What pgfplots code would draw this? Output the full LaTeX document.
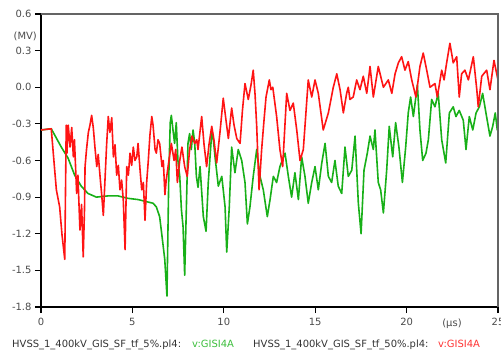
\documentclass[border=0pt]{standalone}
\usepackage{pgfplots}
\pgfplotsset{compat=1.18}
\usepackage{fontspec}
\setmainfont{DejaVu Sans}

\definecolor{trgreen}{RGB}{24,176,24}
\definecolor{trred}{RGB}{255,20,20}
\definecolor{lgreen}{RGB}{60,190,60}
\definecolor{lred}{RGB}{255,50,50}
\definecolor{txtgray}{RGB}{75,75,75}
\definecolor{framegray}{RGB}{100,100,100}

% v:GISI4A, tf = 5 %
\pgfplotstableread{
t v
0 -0.35
0.56 -0.34
1.11 -0.49
1.48 -0.58
1.84 -0.72
2.20 -0.81
2.57 -0.87
3.03 -0.90
3.67 -0.89
4.21 -0.89
4.76 -0.91
5.31 -0.92
5.85 -0.94
6.13 -0.95
6.31 -0.98
6.49 -1.06
6.62 -1.22
6.77 -1.41
6.89 -1.71
6.99 -0.73
7.07 -0.29
7.13 -0.23
7.22 -0.35
7.31 -0.46
7.40 -0.29
7.49 -0.60
7.59 -0.73
7.68 -1.00
7.77 -1.14
7.86 -1.54
7.95 -1.00
8.04 -0.46
8.13 -0.38
8.22 -0.51
8.32 -0.35
8.41 -0.46
8.50 -0.73
8.59 -0.82
8.70 -0.65
8.88 -1.06
9.03 -1.18
9.15 -0.78
9.34 -0.37
9.43 -0.43
9.52 -0.57
9.70 -0.81
9.89 -0.73
10.07 -0.98
10.16 -1.35
10.30 -0.98
10.43 -0.49
10.61 -0.70
10.79 -0.51
10.98 -0.60
11.16 -0.78
11.29 -1.12
11.43 -0.98
11.61 -0.73
11.80 -0.51
11.98 -0.73
12.16 -0.84
12.38 -1.06
12.53 -0.92
12.71 -0.73
12.89 -0.78
13.07 -0.65
13.35 -0.54
13.53 -0.73
13.71 -0.90
13.89 -0.70
14.08 -0.92
14.26 -0.57
14.44 -0.73
14.62 -0.95
14.81 -0.78
14.99 -0.65
15.17 -0.84
15.36 -0.62
15.54 -0.46
15.72 -0.73
15.90 -0.78
16.08 -0.60
16.26 -0.81
16.45 -0.87
16.63 -0.49
16.81 -0.73
17.00 -0.68
17.18 -0.40
17.36 -0.95
17.51 -1.20
17.67 -0.68
17.85 -0.54
18.00 -0.40
18.18 -0.51
18.27 -0.35
18.45 -0.78
18.58 -0.84
18.73 -1.03
18.91 -0.68
19.05 -0.32
19.24 -0.57
19.40 -0.29
19.58 -0.49
19.77 -0.78
19.95 -0.49
20.09 -0.21
20.22 -0.08
20.37 -0.24
20.59 0.02
20.73 -0.35
20.88 -0.60
21.06 -0.54
21.19 -0.43
21.37 -0.10
21.55 -0.16
21.73 -0.05
21.92 -0.43
22.14 -0.62
22.34 -0.21
22.55 -0.16
22.70 -0.24
22.88 -0.19
23.10 -0.27
23.25 -0.51
23.43 -0.24
23.62 -0.35
23.80 -0.21
23.98 -0.16
24.16 -0.05
24.34 -0.21
24.56 -0.40
24.71 -0.32
24.85 -0.21
24.96 -0.35
25.00 -0.25
}\tfFive

% v:GISI4A, tf = 50 %
\pgfplotstableread{
t v
0 -0.35
0.56 -0.34
0.84 -0.84
1.02 -0.98
1.15 -1.21
1.30 -1.41
1.38 -0.31
1.42 -0.54
1.49 -0.31
1.59 -0.49
1.68 -0.33
1.77 -0.57
1.83 -0.43
1.95 -0.87
2.02 -0.72
2.13 -1.17
2.22 -0.96
2.31 -1.39
2.38 -1.00
2.41 -0.65
2.49 -0.51
2.59 -0.37
2.68 -0.31
2.77 -0.23
2.86 -0.33
2.95 -0.49
3.05 -0.65
3.13 -0.55
3.23 -0.73
3.32 -0.88
3.41 -1.05
3.50 -0.76
3.59 -0.47
3.68 -0.24
3.77 -0.37
3.87 -0.25
3.96 -0.57
4.05 -0.47
4.14 -0.72
4.23 -0.64
4.32 -0.84
4.41 -0.76
4.50 -0.92
4.60 -1.33
4.69 -0.65
4.78 -0.72
4.87 -0.54
4.96 -0.64
5.05 -0.49
5.14 -0.60
5.24 -0.57
5.31 -0.46
5.42 -0.68
5.51 -0.84
5.60 -0.78
5.69 -1.09
5.78 -0.78
5.87 -0.60
5.96 -0.39
6.06 -0.24
6.13 -0.31
6.24 -0.51
6.31 -0.54
6.40 -0.43
6.49 -0.46
6.62 -0.65
6.69 -0.60
6.78 -0.88
6.85 -0.76
7.00 -0.60
7.13 -0.46
7.28 -0.60
7.37 -0.51
7.46 -0.78
7.59 -0.60
7.71 -0.49
7.86 -0.65
8.00 -0.73
8.13 -0.51
8.26 -0.40
8.41 -0.46
8.52 -0.43
8.59 -0.51
8.79 -0.24
8.92 -0.47
9.06 -0.65
9.19 -0.47
9.34 -0.32
9.46 -0.43
9.61 -0.62
9.79 -0.37
9.97 -0.09
10.12 -0.27
10.25 -0.42
10.43 -0.17
10.56 -0.31
10.71 -0.42
10.89 -0.46
11.02 -0.19
11.16 0.03
11.34 -0.10
11.49 0.02
11.61 0.14
11.71 -0.06
11.80 -0.32
11.93 -0.84
12.07 -0.51
12.20 -0.27
12.31 -0.08
12.49 0.06
12.58 -0.02
12.68 0.00
12.89 -0.24
13.07 -0.51
13.22 -0.65
13.44 -0.05
13.62 -0.19
13.80 -0.13
13.99 -0.35
14.17 -0.60
14.35 -0.51
14.62 0.06
14.81 -0.08
14.99 0.06
15.17 -0.05
15.44 -0.35
15.72 -0.21
15.99 0.00
16.18 0.11
16.36 -0.02
16.54 -0.21
16.72 -0.05
16.81 0.00
16.90 -0.10
17.08 -0.08
17.27 0.06
17.45 -0.02
17.63 0.09
17.82 -0.05
18.00 0.17
18.18 -0.08
18.45 0.17
18.73 0.00
19.00 0.06
19.19 -0.05
19.37 0.11
19.55 0.20
19.73 0.25
19.91 0.14
20.09 0.21
20.28 0.06
20.51 -0.08
20.73 0.17
20.91 0.28
21.10 0.14
21.28 0.00
21.55 0.03
21.68 -0.08
21.92 0.14
22.05 0.06
22.19 0.20
22.37 0.36
22.55 0.20
22.74 0.25
22.88 -0.08
23.01 0.11
23.19 0.14
23.38 0.06
23.65 0.25
23.84 -0.02
23.92 -0.16
24.11 0.09
24.38 0.14
24.56 -0.02
24.78 0.22
24.93 0.11
25.00 0.06
}\tfFifty

\begin{document}
\begin{tikzpicture}
\path[use as bounding box] (0,0) rectangle (501bp,351bp);
\begin{axis}[
  name=main,
  at={(41bp,44bp)}, anchor=south west,
  scale only axis,
  width=457bp, height=293bp,
  xmin=0, xmax=25, ymin=-1.8, ymax=0.6,
  axis lines*=left,
  axis line style={black, line width=1.3bp},
  tick align=outside,
  major tick length=6bp,
  tick style={black, line width=1.1bp},
  xtick={0,5,10,15,20,25},
  xticklabels={0,5,10,15,20,25},
  ytick={-1.8,-1.5,-1.2,-0.9,-0.6,-0.3,0,0.3,0.6},
  yticklabels={-1.8,-1.5,-1.2,-0.9,-0.6,-0.3,0.0,0.3,0.6},
  ticklabel style={font=\fontsize{10}{12}\selectfont, text=txtgray},
  xticklabel style={yshift=-2bp},
  clip=true,
]
\addplot[trgreen, line width=1.6bp, line join=round] table[x=t, y=v] {\tfFive};
\addplot[trred, line width=1.6bp, line join=round] table[x=t, y=v] {\tfFifty};
\end{axis}
% closing frame on top and right
\draw[framegray, line width=1.3bp] (main.north west) -- (main.north east) -- (main.south east);
% axis units
\node[anchor=east, inner sep=0pt, text=txtgray, font=\fontsize{10}{12}\selectfont] at (37bp,315bp) {(MV)};
\node[anchor=center, inner sep=0pt, text=txtgray, font=\fontsize{10}{12}\selectfont] at (452bp,27.5bp) {(µs)};
% legend line
\begin{scope}[every node/.style={anchor=base west, inner sep=0pt, font=\fontsize{10}{12}\selectfont}]
\node[text=black!80] at (12bp,4bp) {HVSS\_1\_400kV\_GIS\_SF\_tf\_5\%.pl4:};
\node[text=lgreen] at (192bp,4bp) {v:GISI4A};
\node[text=black!80] at (253bp,4bp) {HVSS\_1\_400kV\_GIS\_SF\_tf\_50\%.pl4:};
\node[text=lred] at (438bp,4bp) {v:GISI4A};
\end{scope}
\end{tikzpicture}
\end{document}
